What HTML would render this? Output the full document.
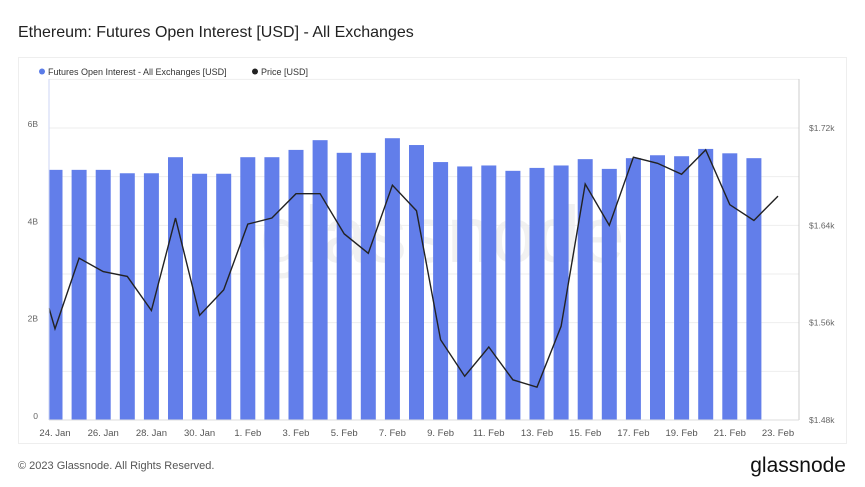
<!DOCTYPE html>
<html><head><meta charset="utf-8"><style>
body{margin:0;background:#fff;font-family:"Liberation Sans",sans-serif;}
#wrap{position:relative;width:865px;height:487px;overflow:hidden;}
</style></head><body>
<div id="wrap">
<svg id="svg" width="865" height="487">
<text x="18" y="37" font-size="16" fill="#222">Ethereum: Futures Open Interest [USD] - All Exchanges</text>
<rect x="18.5" y="57.5" width="828" height="386" fill="none" stroke="#eee"/>
<text x="260" y="262" font-size="80" fill="#000" opacity="0.05">glassnode</text>
<g id="grid"></g><g id="bars"></g><g id="line"></g><g id="axes"></g>
<g>
<circle cx="42" cy="71.5" r="3" fill="#5b7ce8"/>
<text x="48" y="75" font-size="9" fill="#333">Futures Open Interest - All Exchanges [USD]</text>
<circle cx="255" cy="71.5" r="3" fill="#222"/>
<text x="261" y="75" font-size="9" fill="#333">Price [USD]</text>
</g>
<text x="18" y="469" font-size="11" fill="#555">© 2023 Glassnode. All Rights Reserved.</text>
<text x="846" y="472" font-size="21" fill="#111" text-anchor="end">glassnode</text>
</svg>
</div>
<script>
const oiValues=[5.14,5.14,5.14,5.07,5.07,5.40,5.06,5.06,5.40,5.40,5.55,5.75,5.49,5.49,5.79,5.65,5.30,5.21,5.23,5.12,5.18,5.23,5.36,5.16,5.38,5.44,5.42,5.57,5.48,5.38];
const priceValues=[1572,1555,1613,1602,1598,1570,1646,1566,1587,1641,1646,1666,1666,1633,1617,1673,1652,1546,1516,1540,1513,1507,1557,1674,1640,1696,1691,1682,1702,1657,1644,1664];
const priceDays=[-0.25,0,1,2,3,4,5,6,7,8,9,10,11,12,13,14,15,16,17,18,19,20,21,22,23,24,25,26,27,28,29,30];
const xLabels=["24. Jan","26. Jan","28. Jan","30. Jan","1. Feb","3. Feb","5. Feb","7. Feb","9. Feb","11. Feb","13. Feb","15. Feb","17. Feb","19. Feb","21. Feb","23. Feb"];
const leftTicks=[0,2,4,6];
const leftTickLabels=["0","2B","4B","6B"];
const rightTicks=[1480,1560,1640,1720];
const rightTickLabels=["$1.48k","$1.56k","$1.64k","$1.72k"];
const NS="http://www.w3.org/2000/svg";
const L=49,R=799,T=79,B=420;
const x=d=>55+d*24.1;
const yL=v=>B-v*(B-128)/6;
const yR=v=>B-(v-1480)*(B-128)/240;
function mk(p,t,a){const e=document.createElementNS(NS,t);for(const k in a)e.setAttribute(k,a[k]);document.getElementById(p).appendChild(e);return e;}
for(let v=0;v<=7;v++){const yy=yL(v);if(yy<T)continue;
 const g=mk('grid','line',{x1:L,x2:R,y1:yy,y2:yy,stroke:'#eee'});
 
 }
oiValues.forEach((v,i)=>{const cx=x(i);let x0=Math.max(L,cx-7.5);const w=cx+7.5-x0;
 const r=mk('bars','rect',{x:x0,y:yL(v),width:w,height:B-yL(v),fill:'#627eea'});
 
 });
const pts=priceValues.map((v,i)=>(Math.max(L,x(priceDays[i])))+','+yR(v)).join(' ');
const pl=mk('line','polyline',{points:pts,fill:'none',stroke:'#222','stroke-width':1.4});


const ax=mk('axes','line',{x1:L,x2:L,y1:T,y2:B,stroke:'#ccd6f6'});


const ax2=mk('axes','line',{x1:R,x2:R,y1:T,y2:B,stroke:'#ccc'});


const ax3=mk('axes','line',{x1:L,x2:R,y1:B,y2:B,stroke:'#ddd'});


xLabels.forEach((s,i)=>{const t=mk('axes','text',{x:x(i*2),y:436,'font-size':9.5,fill:'#555','text-anchor':'middle'});t.textContent=s;
 
 });
leftTicks.forEach((v,i)=>{const t=mk('axes','text',{x:38,y:yL(v)-1,'font-size':8.5,fill:'#666','text-anchor':'end'});t.textContent=leftTickLabels[i];
 
 });
rightTicks.forEach((v,i)=>{const t=mk('axes','text',{x:809,y:yR(v)+3,'font-size':8.5,fill:'#666'});t.textContent=rightTickLabels[i];
 
 });
</script>
</body></html>
